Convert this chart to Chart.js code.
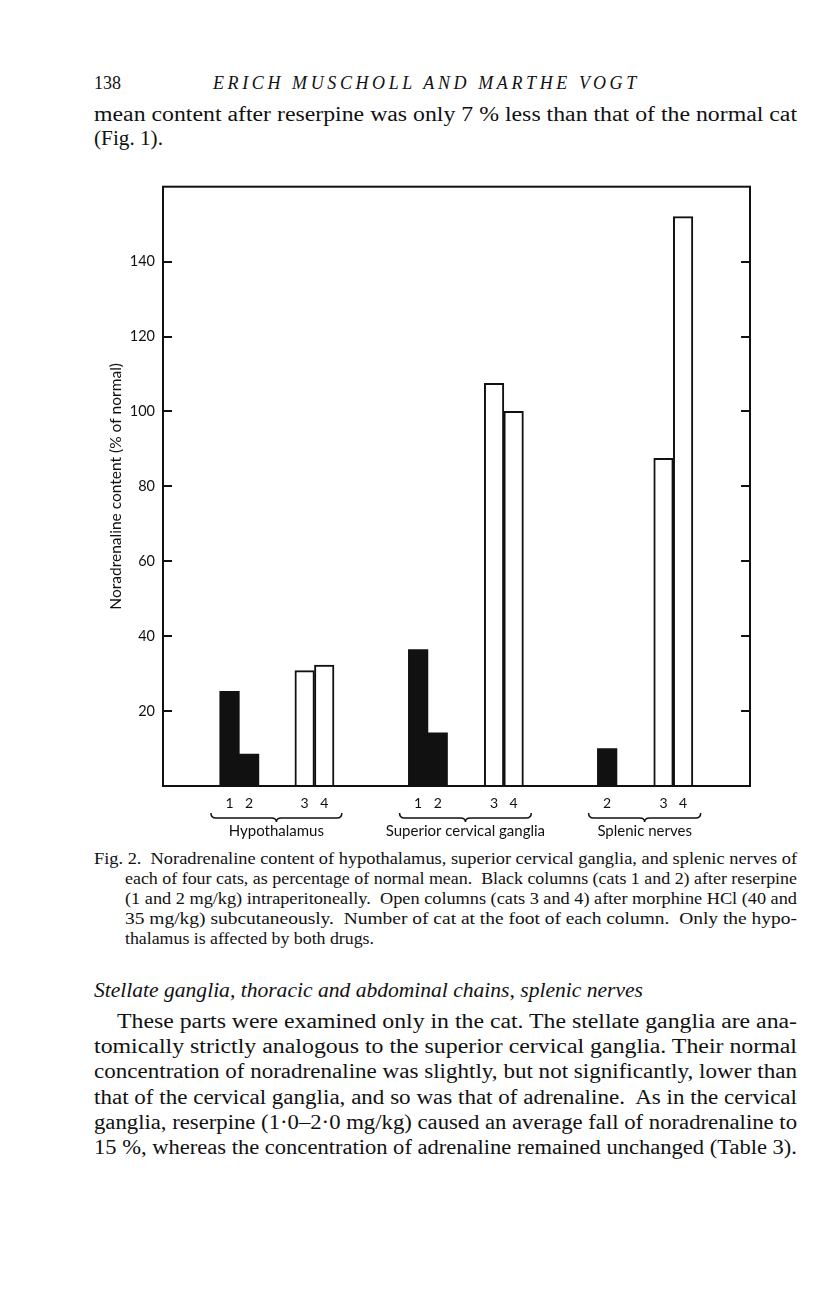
<!DOCTYPE html>
<html>
<head>
<meta charset="utf-8">
<script src="https://cdn.jsdelivr.net/npm/chart.js@4.4.1/dist/chart.umd.min.js"></script>
<style>
  html, body { margin: 0; padding: 0; background: #fff; }
  body { width: 816px; height: 1296px; position: relative; overflow: hidden;
         font-family: "Liberation Serif", serif; color: #111; }
  .t { position: absolute; white-space: nowrap; line-height: 1; transform-origin: 0 0; }
  .cap { font-size: 16px; }
  .body { font-size: 20px; }
  #wrap { position: absolute; left: 0; top: 170px; width: 816px; height: 680px; }
</style>
</head>
<body>
<div class="t" style="left:94px;top:74px;font-size:18px">138</div>
<div class="t" style="left:213px;top:74px;font-size:18px;font-style:italic;letter-spacing:3.6px">ERICH MUSCHOLL AND MARTHE VOGT</div>

<div class="t body fit" data-r="797" style="left:94px;top:104px">mean content after reserpine was only 7 % less than that of the normal cat</div>
<div class="t body fit" data-r="163" style="left:94px;top:128px">(Fig. 1).</div>

<div id="wrap"><canvas id="chart" width="816" height="680"></canvas></div>

<div class="t cap fit" data-r="797" style="left:94px;top:851px">Fig. 2.&nbsp; Noradrenaline content of hypothalamus, superior cervical ganglia, and splenic nerves of</div>
<div class="t cap fit" data-r="797" style="left:125px;top:871px">each of four cats, as percentage of normal mean.&nbsp; Black columns (cats 1 and 2) after reserpine</div>
<div class="t cap fit" data-r="797" style="left:125px;top:891px">(1 and 2 mg/kg) intraperitoneally.&nbsp; Open columns (cats 3 and 4) after morphine HCl (40 and</div>
<div class="t cap fit" data-r="797" style="left:125px;top:911px">35 mg/kg) subcutaneously.&nbsp; Number of cat at the foot of each column.&nbsp; Only the hypo-</div>
<div class="t cap fit" data-r="374" style="left:125px;top:931px">thalamus is affected by both drugs.</div>

<div class="t body fit" data-r="643" style="left:94px;top:980px;font-style:italic">Stellate ganglia, thoracic and abdominal chains, splenic nerves</div>
<div class="t body fit" data-r="797" style="left:117px;top:1011px">These parts were examined only in the cat. The stellate ganglia are ana-</div>
<div class="t body fit" data-r="797" style="left:94px;top:1036px">tomically strictly analogous to the superior cervical ganglia. Their normal</div>
<div class="t body fit" data-r="797" style="left:94px;top:1061px">concentration of noradrenaline was slightly, but not significantly, lower than</div>
<div class="t body fit" data-r="797" style="left:94px;top:1087px">that of the cervical ganglia, and so was that of adrenaline.&nbsp; As in the cervical</div>
<div class="t body fit" data-r="797" style="left:94px;top:1112px">ganglia, reserpine (1·0–2·0 mg/kg) caused an average fall of noradrenaline to</div>
<div class="t body fit" data-r="797" style="left:94px;top:1137px">15 %, whereas the concentration of adrenaline remained unchanged (Table 3).</div>

<script>
// groups along the x axis
const groupNames = ['Hypothalamus', 'Superior cervical ganglia', 'Splenic nerves'];
const catLabels = ['1', '2', '3', '4'];

// column position on the x axis (1 unit = one column), one entry per group
const cat1Pos = [3.4, 13.04, null];
const cat2Pos = [4.4, 14.04, 22.7];
const cat3Pos = [7.24, 16.92, 25.58];
const cat4Pos = [8.24, 17.92, 26.58];

// noradrenaline content, % of normal mean
const cat1Vals = [25.3, 36.4, null];
const cat2Vals = [8.5, 14.2, 10.0];
const cat3Vals = [30.8, 107.5, 87.5];
const cat4Vals = [32.3, 100, 152];

const yTicks = [20, 40, 60, 80, 100, 120, 140];

// widen the narrow serif so each line ends where the printed one does
document.querySelectorAll('.fit').forEach(el => {
  const target = +el.dataset.r - el.offsetLeft;
  const nat = el.getBoundingClientRect().width;
  el.style.transform = 'scaleX(' + (target / nat) + ')';
});

const allPos = [cat1Pos, cat2Pos, cat3Pos, cat4Pos];
const allVals = [cat1Vals, cat2Vals, cat3Vals, cat4Vals];

function points(pos, vals) {
  const out = [];
  pos.forEach((p, i) => { if (p !== null && vals[i] !== null) out.push({ x: p, y: vals[i] }); });
  return out;
}

// x tick labels = cat number under each column
const xTicks = [];
allPos.forEach((pos, c) => pos.forEach(p => { if (p !== null) xTicks.push({ v: p, label: catLabels[c] }); }));
xTicks.sort((a, b) => a.v - b.v);

const datasets = allPos.map((pos, c) => ({
  label: 'Cat ' + catLabels[c],
  data: points(pos, allVals[c]),
  backgroundColor: c < 2 ? '#111' : '#fff',
  borderColor: '#111',
  borderWidth: c < 2 ? 0 : 2,
  borderSkipped: 'start',
  grouped: false,
  barPercentage: 1,
  categoryPercentage: 1
}));

const decor = {
  id: 'decor',
  afterDatasetsDraw(chart) {
    const { ctx, chartArea: a, scales: { x, y } } = chart;
    ctx.save();
    ctx.strokeStyle = '#111';
    ctx.lineWidth = 2;
    ctx.strokeRect(a.left, a.top, a.right - a.left, a.bottom - a.top);

    // inward tick marks on both sides
    yTicks.forEach(v => {
      const py = Math.round(y.getPixelForValue(v));
      ctx.beginPath();
      ctx.moveTo(a.left, py); ctx.lineTo(a.left + 9, py);
      ctx.moveTo(a.right - 9, py); ctx.lineTo(a.right, py);
      ctx.stroke();
    });

    // braces and group names
    ctx.lineWidth = 1.5;
    ctx.fillStyle = '#111';
    ctx.font = '15px Lato';
    ctx.textAlign = 'center';
    ctx.textBaseline = 'middle';
    groupNames.forEach((name, g) => {
      const ps = allPos.map(p => p[g]).filter(p => p !== null);
      const x1 = x.getPixelForValue(Math.min(...ps) - 0.95);
      const x2 = x.getPixelForValue(Math.max(...ps) + 0.9);
      const xm = (x1 + x2) / 2;
      const by = a.bottom + 32;
      ctx.beginPath();
      ctx.moveTo(x1, by - 5);
      ctx.quadraticCurveTo(x1, by, x1 + 5, by);
      ctx.lineTo(xm - 5, by);
      ctx.quadraticCurveTo(xm, by, xm, by + 4);
      ctx.quadraticCurveTo(xm, by, xm + 5, by);
      ctx.lineTo(x2 - 5, by);
      ctx.quadraticCurveTo(x2, by, x2, by - 5);
      ctx.stroke();
      ctx.fillText(name, xm, a.bottom + 45);
    });
    ctx.restore();
  }
};

function draw() {
  new Chart(document.getElementById('chart'), {
    type: 'bar',
    data: { datasets },
    options: {
      responsive: false,
      animation: false,
      layout: { padding: { top: 15, right: 66, left: 0, bottom: 0 } },
      plugins: { legend: { display: false }, tooltip: { enabled: false } },
      scales: {
        x: {
          type: 'linear', min: 0, max: 30, offset: false,
          grid: { display: false, drawTicks: false },
          border: { display: false },
          afterBuildTicks: s => { s.ticks = xTicks.map(t => ({ value: t.v })); },
          afterFit: s => { s.height = 64; },
          ticks: {
            autoSkip: false, maxRotation: 0, padding: 9,
            font: { family: 'Lato', size: 14 }, color: '#111',
            callback: (v, i) => xTicks[i] ? xTicks[i].label : ''
          }
        },
        y: {
          min: 0, max: 160,
          grid: { display: false, drawTicks: false },
          border: { display: false },
          afterBuildTicks: s => { s.ticks = yTicks.map(v => ({ value: v })); },
          afterFit: s => { s.width = 163; },
          ticks: { padding: 8, font: { family: 'Lato', size: 14.5 }, color: '#111' },
          title: {
            display: true, text: 'Noradrenaline content (% of normal)',
            font: { family: 'Lato', size: 15.5 }, color: '#111',
            padding: { top: 107, bottom: 0 }
          }
        }
      }
    },
    plugins: [decor]
  });
}

Promise.all([document.fonts.load('14px Lato'), document.fonts.load('15px Lato')]).then(draw, draw);
</script>
</body>
</html>
